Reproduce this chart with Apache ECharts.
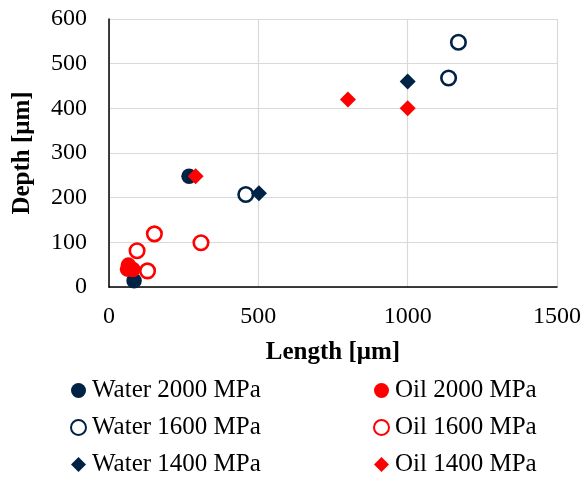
<!DOCTYPE html>
<html>
<head>
<meta charset="utf-8">
<script src="https://cdn.jsdelivr.net/npm/echarts@6/dist/echarts.min.js"></script>
<style>
  html, body { margin: 0; padding: 0; background: #fff; }
  #chart { width: 585px; height: 477px; }
</style>
</head>
<body>
<div id="chart"></div>
<script>
  var NAVY = '#002244';
  var RED = '#ff0000';

  // [length, depth] pairs
  var water2000 = [[84, 14], [268, 248]];
  var oil2000 = [[62, 40], [65, 49], [80, 39]];
  var water1600 = [[458, 207], [1137, 468], [1170, 548]];
  var oil1600 = [[94, 81], [129, 36], [152, 119], [308, 99]];
  var water1400 = [[502, 210], [1000, 460]];
  var oil1400 = [[290, 248], [800, 420], [1000, 400]];

  var xTicks = [0, 500, 1000, 1500];
  var yTicks = [0, 100, 200, 300, 400, 500, 600];

  var font = 'Liberation Serif, Times New Roman, serif';

  function filled(name, data, symbol, color, size) {
    return {
      name: name, type: 'scatter', data: data, symbol: symbol, symbolSize: size,
      itemStyle: { color: color, opacity: 1 }
    };
  }
  function hollow(name, data, color) {
    return {
      name: name, type: 'scatter', data: data, symbol: 'circle', symbolSize: 14.5,
      itemStyle: { color: '#fff', borderColor: color, borderWidth: 2.6, opacity: 1 }
    };
  }
  function legendCol(names, left) {
    return {
      data: names, orient: 'vertical', left: left, top: 378, height: 100,
      padding: 0, itemGap: 12, itemWidth: 15, itemHeight: 15,
      textStyle: { fontFamily: font, fontSize: 25, color: '#000', padding: [0, 0, 0, 1] }
    };
  }

  var chart = echarts.init(document.getElementById('chart'));
  chart.setOption({
    animation: false,
    backgroundColor: '#fff',
    grid: { left: 109, right: 28, top: 19, bottom: 190 },
    xAxis: {
      type: 'value', min: xTicks[0], max: xTicks[xTicks.length - 1], interval: 500,
      name: 'Length [μm]', nameLocation: 'middle', nameGap: 53,
      nameTextStyle: { fontFamily: font, fontSize: 25, fontWeight: 'bold', color: '#000' },
      axisLine: { show: true, lineStyle: { color: '#000', width: 1.5 } },
      axisTick: { show: false },
      axisLabel: {
        fontFamily: font, fontSize: 24, color: '#000', margin: 18,
        formatter: function (v) { return String(v); }
      },
      splitLine: { show: true, lineStyle: { color: '#d9d9d9', width: 1.2 } }
    },
    yAxis: {
      type: 'value', min: yTicks[0], max: yTicks[yTicks.length - 1], interval: 100,
      name: 'Depth [μm]', nameLocation: 'middle', nameGap: 74, nameRotate: 90,
      nameTextStyle: { fontFamily: font, fontSize: 25, fontWeight: 'bold', color: '#000' },
      axisLine: { show: true, lineStyle: { color: '#000', width: 1.5 } },
      axisTick: { show: false },
      axisLabel: { fontFamily: font, fontSize: 24, color: '#000', margin: 22 },
      splitLine: { show: true, lineStyle: { color: '#d9d9d9', width: 1.2 } }
    },
    legend: [
      legendCol(['Water 2000 MPa', 'Water 1600 MPa', 'Water 1400 MPa'], 70),
      legendCol(['Oil 2000 MPa', 'Oil 1600 MPa', 'Oil 1400 MPa'], 373)
    ],
    series: [
      filled('Water 2000 MPa', water2000, 'circle', NAVY, 15.5),
      filled('Oil 2000 MPa', oil2000, 'circle', RED, 15.5),
      hollow('Water 1600 MPa', water1600, NAVY),
      hollow('Oil 1600 MPa', oil1600, RED),
      filled('Water 1400 MPa', water1400, 'diamond', NAVY, 16),
      filled('Oil 1400 MPa', oil1400, 'diamond', RED, 16)
    ]
  });
</script>
</body>
</html>
